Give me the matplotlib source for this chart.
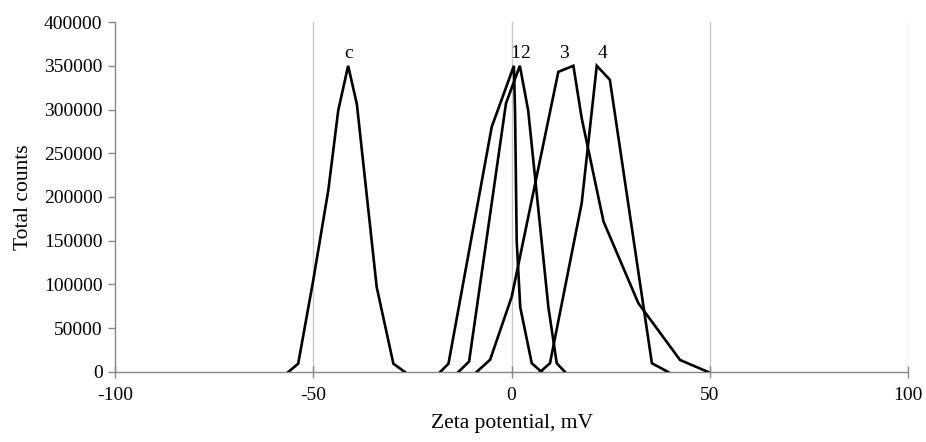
import matplotlib
matplotlib.use("Agg")
import matplotlib.pyplot as plt

# Data
x_c = [-56.3, -53.8, -50.0, -46.2, -43.7, -41.2, -39.0, -34.0, -29.8, -26.9]
y_c = [0, 9500, 105000, 208000, 299000, 350000, 306000, 97000, 9500, 0]

x_1 = [-18.0, -15.9, -5.0, 0.6, 0.9, 1.3, 2.2, 5.1, 7.6]
y_1 = [0, 9500, 280000, 350000, 295000, 150000, 74000, 10000, 0]

x_2 = [-13.4, -10.7, -1.4, 2.1, 4.2, 9.3, 11.4, 13.5]
y_2 = [0, 12000, 307000, 350000, 299000, 74000, 10000, 0]

x_3 = [-8.8, -5.4, 0.05, 11.8, 15.6, 17.7, 23.2, 32.0, 42.5, 49.6]
y_3 = [0, 14000, 86000, 343000, 350000, 290000, 172000, 78500, 13700, 0]

x_4 = [7.2, 9.7, 17.7, 21.5, 24.8, 35.4, 39.5]
y_4 = [0, 10000, 193000, 350000, 334000, 10000, 0]

labels = ["c", "1", "2", "3", "4"]
label_x = [-41.2, 0.9, 3.4, 13.2, 23.0]
label_y = [364000, 364000, 364000, 364000, 364000]

x_ticks = [-100, -50, 0, 50, 100]
y_ticks = [0, 50000, 100000, 150000, 200000, 250000, 300000, 350000, 400000]

plt.rcParams['font.family'] = ['Liberation Serif', 'DejaVu Serif']

fig = plt.figure(figsize=(9.26, 4.42), dpi=100)
ax = fig.add_axes([0.1242, 0.1584, 0.8564, 0.7918])

for xs, ys in [(x_c, y_c), (x_1, y_1), (x_2, y_2), (x_3, y_3), (x_4, y_4)]:
    ax.plot(xs, ys, color='black', lw=1.9, solid_joinstyle='miter', zorder=3)

for t, lx, ly in zip(labels, label_x, label_y):
    ax.text(lx, ly, t, ha='center', va='center', fontsize=14, color='black')

ax.set_xlim(-100, 100)
ax.set_ylim(0, 400000)
ax.set_xticks(x_ticks)
ax.set_yticks(y_ticks)
ax.set_xticklabels([str(v) for v in x_ticks])
ax.set_yticklabels([str(v) for v in y_ticks])
ax.tick_params(axis='both', labelsize=14, colors='#888888', labelcolor='black',
               length=5, width=1)
ax.tick_params(axis='y', pad=4)
ax.tick_params(axis='x', direction='inout', length=8, pad=7)

for v in x_ticks[1:]:
    ax.axvline(v, color='#c8c8c8', lw=1, zorder=1)

for s in ['top', 'right']:
    ax.spines[s].set_visible(False)
for s in ['left', 'bottom']:
    ax.spines[s].set_color('#888888')
    ax.spines[s].set_linewidth(1)

ax.set_xlabel('Zeta potential, mV', fontsize=15.5, labelpad=7)
ax.set_ylabel('Total counts', fontsize=15.5, labelpad=8)

fig.savefig('out.png', dpi=100)
